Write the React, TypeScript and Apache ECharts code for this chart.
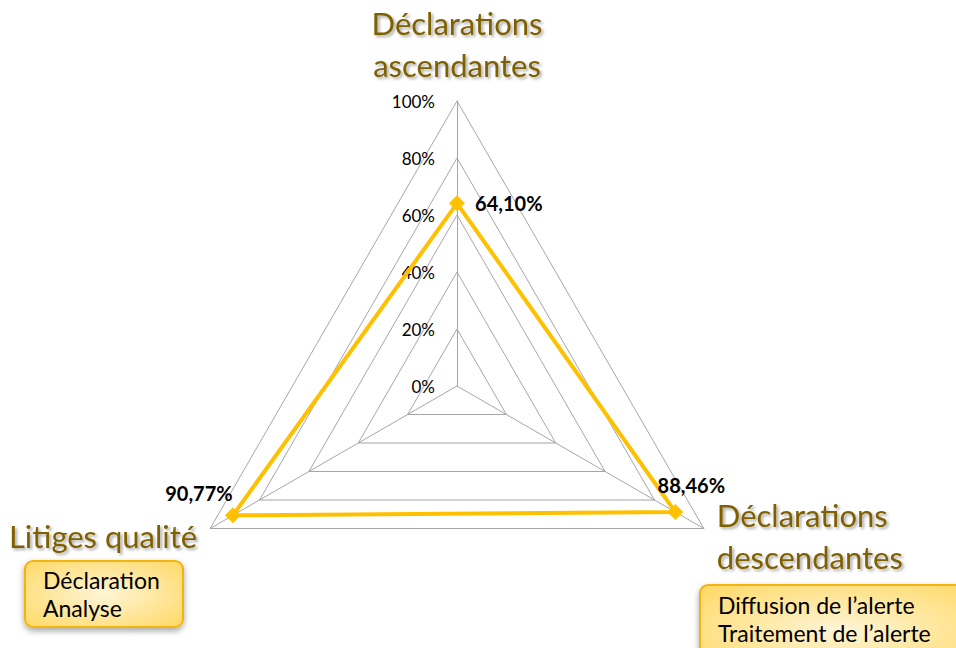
import React, { useEffect, useRef } from 'react';
import * as echarts from 'echarts';

// Indicators in ECharts order (top, then counter-clockwise: bottom-left, bottom-right)
const indicatorNames = ['Déclarations\nascendantes', 'Litiges qualité', 'Déclarations\ndescendantes'];
const scores = [64.10, 90.77, 88.46];
const axisMin = 0;
const axisMax = 100;
const splitCount = 5;
const boxLeftLines = ['Déclaration', 'Analyse'];
const boxRightLines = ['Diffusion de l’alerte', 'Traitement de l’alerte'];

const fmtPct = (v: number) => v.toFixed(2).replace('.', ',') + '%';

export default function App() {
  const ref = useRef<HTMLDivElement>(null);
  useEffect(() => {
    if (!ref.current) return;
    const chart = echarts.init(ref.current, undefined, { renderer: 'svg' });
    const labelPlacements: any[] = [
      { position: 'right', distance: 18, offset: [0, 0] },
      { position: 'inside', offset: [-34, -22] },
      { position: 'inside', offset: [16, -27] },
    ];
    const boxFill = {
      type: 'radial', x: 0.5, y: 0.5, r: 0.75,
      colorStops: [
        { offset: 0, color: '#FFF5D6' },
        { offset: 1, color: '#FFD65C' },
      ],
    };
    chart.setOption({
      animation: false,
      backgroundColor: '#ffffff',
      radar: {
        center: [457, 386],
        radius: 285,
        startAngle: 90,
        shape: 'polygon',
        splitNumber: splitCount,
        nameGap: 15,
        indicator: indicatorNames.map((name, i) => ({
          name,
          min: axisMin,
          max: axisMax,
          ...(i > 0 ? { axisLabel: { show: false } } : {}),
        })),
        axisName: {
          color: '#7F6000',
          fontSize: 31,
          fontFamily: 'Lato',
          lineHeight: 42,
          textShadowColor: 'rgba(0,0,0,0.35)',
          textShadowBlur: 3,
          textShadowOffsetX: 2,
          textShadowOffsetY: 2,
        },
        splitLine: { lineStyle: { color: '#A6A6A6', width: 1 } },
        splitArea: { show: false },
        axisLine: { lineStyle: { color: '#A6A6A6', width: 1 } },
        axisTick: { show: false },
        axisLabel: {
          show: true,
          formatter: '{value}%',
          color: '#000',
          fontSize: 17,
          fontFamily: 'Lato',
          margin: 22,
        },
      },
      series: [
        {
          type: 'radar',
          symbol: 'diamond',
          symbolSize: 16,
          lineStyle: { color: '#FFC000', width: 4 },
          itemStyle: { color: '#FFC000' },
          label: { show: false },
          data: [{ value: scores, name: 'Score' }],
          z: 3,
        },
        {
          type: 'radar',
          symbol: 'circle',
          symbolSize: 0.1,
          silent: true,
          lineStyle: { width: 0, opacity: 0 },
          itemStyle: { color: 'rgba(0,0,0,0)' },
          z: 4,
          data: labelPlacements.map((pl, k) => ({
            value: scores,
            name: 'label' + k,
            label: {
              show: true,
              ...pl,
              color: '#000',
              fontSize: 20,
              fontWeight: 'bold',
              fontFamily: 'Lato',
              formatter: (p: any) => (p.dimensionIndex === k ? fmtPct(Number(p.value)) : ''),
            },
          })),
        },
      ],
      graphic: [
        {
          type: 'rect',
          shape: { x: 25, y: 561, width: 158, height: 66, r: 8 },
          style: {
            fill: boxFill,
            stroke: '#F2B40C',
            lineWidth: 2,
            shadowBlur: 6,
            shadowOffsetY: 3,
            shadowColor: 'rgba(0,0,0,0.35)',
          },
          z: 10,
        },
        {
          type: 'text',
          x: 43,
          y: 566,
          z: 11,
          style: {
            text: boxLeftLines.join('\n'),
            font: '23px Lato',
            fill: '#000',
            lineHeight: 28,
          },
        },
        {
          type: 'rect',
          shape: { x: 700, y: 585, width: 280, height: 90, r: 8 },
          style: {
            fill: boxFill,
            stroke: '#F2B40C',
            lineWidth: 2,
            shadowBlur: 6,
            shadowOffsetY: 3,
            shadowColor: 'rgba(0,0,0,0.35)',
          },
          z: 10,
        },
        {
          type: 'text',
          x: 718,
          y: 591,
          z: 11,
          style: {
            text: boxRightLines.join('\n'),
            font: '23px Lato',
            fill: '#000',
            lineHeight: 28,
          },
        },
      ],
    });
    return () => chart.dispose();
  }, []);
  return (
    <div
      ref={ref}
      style={{ position: 'fixed', left: 0, top: 0, width: 956, height: 648 }}
    />
  );
}
